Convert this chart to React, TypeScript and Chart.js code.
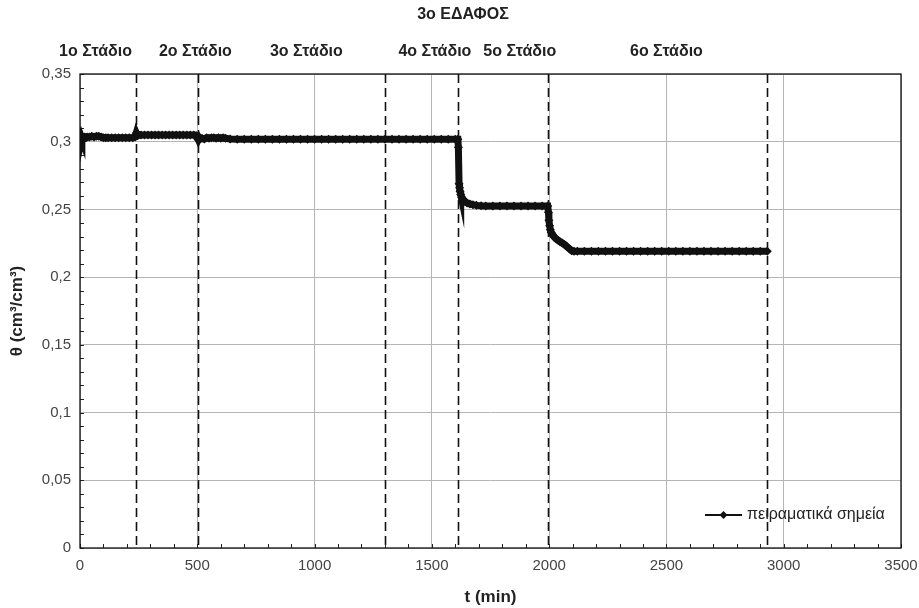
import React, { useEffect, useRef } from "react";
import { Chart, registerables } from "chart.js";

Chart.register(...registerables);

const chartTitle = "3ο ΕΔΑΦΟΣ";
const xAxisTitle = "t (min)";
const yAxisTitle = "θ (cm³/cm³)";
const seriesName = "πειραματικά σημεία";

// stage labels and their (approximate) horizontal centre in t units
const stageLabels = ["1ο Στάδιο", "2ο Στάδιο", "3ο Στάδιο", "4ο Στάδιο", "5ο Στάδιο", "6ο Στάδιο"];
const stageLabelT = [66, 492, 965, 1513, 1875, 2500];
// dashed boundaries between stages (min)
const stageBounds = [240, 504, 1300, 1611, 1994, 2930];

// measured points
const timeMin = [
  0, 2, 4, 6, 8, 10, 15, 20, 25, 30, 40, 50, 60, 70, 80, 90, 100, 110, 120, 135, 150, 165, 180, 195, 210, 225, 235, 240,
  245, 250, 260, 275, 290, 305, 320, 335, 350, 365, 380, 395, 410, 425, 440, 455, 470, 485, 495, 500, 504,
  508, 512, 520, 530, 540, 550, 560, 570, 580, 590, 600, 610, 620, 640, 670, 700, 730, 760, 790, 820, 850, 880,
  910, 940, 970, 1000, 1030, 1060, 1090, 1120, 1150, 1180, 1210, 1240, 1270, 1300, 1330, 1360, 1390, 1420, 1450,
  1480, 1510, 1540, 1570, 1600, 1611,
  1613, 1616, 1618, 1620, 1623, 1627, 1633, 1640, 1650, 1662, 1675, 1690, 1710, 1730,
  1760, 1790, 1820, 1850, 1880, 1910, 1940, 1970, 1994,
  1997, 1999, 2002, 2005, 2009, 2014, 2020, 2028, 2036, 2046, 2056, 2066, 2076, 2086, 2096, 2106, 2120,
  2150, 2180, 2210, 2240, 2270, 2300, 2330, 2360, 2390, 2420, 2450, 2480, 2510, 2540, 2570, 2600, 2630, 2660,
  2690, 2720, 2750, 2780, 2810, 2840, 2870, 2900, 2930,
];
const theta = [
  0.3005, 0.304, 0.301, 0.303, 0.302, 0.3035, 0.303, 0.3035, 0.303, 0.3035, 0.3035, 0.304, 0.3035, 0.304, 0.304, 0.3035,
  0.303, 0.303, 0.303, 0.303, 0.303, 0.303, 0.303, 0.303, 0.303, 0.303, 0.3035, 0.3065,
  0.3045, 0.305, 0.305, 0.305, 0.305, 0.305, 0.305, 0.305, 0.305, 0.305, 0.305, 0.305, 0.305, 0.305, 0.305, 0.305,
  0.305, 0.305, 0.3045, 0.303, 0.3015,
  0.303, 0.302, 0.3025, 0.302, 0.303, 0.3025, 0.303, 0.303, 0.3025, 0.303, 0.3025, 0.303, 0.3025, 0.302, 0.3018,
  0.3018, 0.3018, 0.3018, 0.3018, 0.3018, 0.3018, 0.3018, 0.3018, 0.3018, 0.3018, 0.3018, 0.3018, 0.3018, 0.3018,
  0.3018, 0.3018, 0.3018, 0.3018, 0.3018, 0.3018, 0.3018, 0.3018, 0.3018, 0.3018, 0.3018, 0.3018, 0.3018, 0.3018,
  0.3018, 0.3018, 0.3018, 0.3018,
  0.296, 0.269, 0.266, 0.2635, 0.261, 0.259, 0.2575, 0.256, 0.2548, 0.254, 0.2535, 0.253, 0.2527, 0.2525,
  0.2525, 0.2525, 0.2525, 0.2525, 0.2525, 0.2525, 0.2525, 0.2525, 0.2525,
  0.248, 0.242, 0.238, 0.235, 0.233, 0.2315, 0.23, 0.2285, 0.2275, 0.2262, 0.2252, 0.224, 0.2225, 0.221, 0.2195,
  0.2192, 0.2192,
  0.2192, 0.2192, 0.2192, 0.2192, 0.2192, 0.2192, 0.2192, 0.2192, 0.2192, 0.2192, 0.2192, 0.2192, 0.2192, 0.2192,
  0.2192, 0.2192, 0.2192, 0.2192, 0.2192, 0.2192, 0.2192, 0.2192, 0.2192, 0.2192, 0.2192, 0.2192, 0.2192,
];

const xMin = 0;
const xMax = 3500;
const xStep = 500;
const xMinorStep = 100;
const yMin = 0;
const yMax = 0.35;
const yStep = 0.05;
const yMinorStep = 0.01;

const FONT = "'Liberation Sans', Arial, sans-serif";

const decorPlugin = {
  id: "decor",
  beforeDatasetsDraw(chart: any) {
    const { ctx, chartArea, scales } = chart;
    const xs = scales.x;
    const ys = scales.y;
    ctx.save();
    // dashed stage boundaries
    ctx.strokeStyle = "#111";
    ctx.lineWidth = 1.6;
    ctx.setLineDash([9, 5]);
    for (const b of stageBounds) {
      const px = Math.round(xs.getPixelForValue(b)) + 0.5;
      ctx.beginPath();
      ctx.moveTo(px, chartArea.top);
      ctx.lineTo(px, chartArea.bottom);
      ctx.stroke();
    }
    ctx.setLineDash([]);
    // minor ticks
    ctx.strokeStyle = "#222";
    ctx.lineWidth = 1;
    for (let i = 0; xMin + i * xMinorStep <= xMax; i++) {
      const px = Math.round(xs.getPixelForValue(xMin + i * xMinorStep)) + 0.5;
      ctx.beginPath();
      ctx.moveTo(px, chartArea.bottom);
      ctx.lineTo(px, chartArea.bottom - 4);
      ctx.stroke();
    }
    for (let i = 0; yMin + i * yMinorStep <= yMax + 1e-9; i++) {
      const py = Math.round(ys.getPixelForValue(yMin + i * yMinorStep)) + 0.5;
      ctx.beginPath();
      ctx.moveTo(chartArea.left, py);
      ctx.lineTo(chartArea.left + 4, py);
      ctx.stroke();
    }
    // plot border
    ctx.strokeStyle = "#111";
    ctx.lineWidth = 1.3;
    ctx.strokeRect(chartArea.left, chartArea.top, chartArea.right - chartArea.left, chartArea.bottom - chartArea.top);
    ctx.restore();
  },
  afterDraw(chart: any) {
    const { ctx, chartArea, scales } = chart;
    const xs = scales.x;
    ctx.save();
    ctx.fillStyle = "#222";
    ctx.textAlign = "center";
    ctx.textBaseline = "middle";
    ctx.font = `bold 16px ${FONT}`;
    ctx.fillText(chartTitle, 463, 15);
    stageLabels.forEach((s, i) => {
      ctx.fillText(s, xs.getPixelForValue(stageLabelT[i]), 52);
    });
    // legend
    const ly = chartArea.bottom - 33;
    const lx0 = chartArea.right - 196;
    const lx1 = chartArea.right - 159;
    ctx.strokeStyle = "#111";
    ctx.lineWidth = 2;
    ctx.beginPath();
    ctx.moveTo(lx0, ly);
    ctx.lineTo(lx1, ly);
    ctx.stroke();
    const cx = (lx0 + lx1) / 2;
    ctx.fillStyle = "#111";
    ctx.beginPath();
    ctx.moveTo(cx, ly - 4);
    ctx.lineTo(cx + 4, ly);
    ctx.lineTo(cx, ly + 4);
    ctx.lineTo(cx - 4, ly);
    ctx.closePath();
    ctx.fill();
    ctx.fillStyle = "#222";
    ctx.textAlign = "left";
    ctx.font = `16px ${FONT}`;
    ctx.fillText(seriesName, lx1 + 5, ly);
    ctx.restore();
  },
};

export default function App() {
  const ref = useRef<HTMLCanvasElement | null>(null);
  useEffect(() => {
    if (!ref.current) return;
    const points = timeMin.map((t, i) => ({ x: t, y: theta[i] }));
    const chart = new Chart(ref.current, {
      type: "scatter",
      data: {
        datasets: [
          {
            label: seriesName,
            data: points,
            showLine: true,
            borderColor: "#111",
            backgroundColor: "#111",
            borderWidth: 7,
            pointStyle: "rectRot",
            pointRadius: 4.5,
            pointBorderWidth: 0,
          },
        ],
      },
      plugins: [decorPlugin],
      options: {
        animation: false,
        responsive: true,
        maintainAspectRatio: false,
        layout: { padding: { top: 74, right: 18, left: 0, bottom: 0 } },
        plugins: {
          legend: { display: false },
          tooltip: { enabled: false },
          title: { display: false },
        },
        scales: {
          x: {
            type: "linear",
            min: xMin,
            max: xMax,
            ticks: {
              stepSize: xStep,
              color: "#444",
              padding: 9,
              font: { family: FONT, size: 15 },
              maxRotation: 0,
              callback: (v: any) => String(v),
            },
            grid: { color: "#b5b5b5", lineWidth: 1, drawTicks: false },
            border: { display: false },
            title: {
              display: true,
              text: xAxisTitle,
              color: "#222",
              font: { family: FONT, size: 17, weight: "bold" },
              padding: { top: 2, bottom: 0 },
            },
            afterFit(scale: any) {
              scale.height = 60;
              scale.paddingLeft = 0;
              scale.paddingRight = 0;
            },
          },
          y: {
            type: "linear",
            min: yMin,
            max: yMax,
            ticks: {
              stepSize: yStep,
              color: "#444",
              padding: 9,
              font: { family: FONT, size: 15 },
              callback: (v: any) => String(Math.round(Number(v) * 100) / 100).replace(".", ","),
            },
            grid: { color: "#b5b5b5", lineWidth: 1, drawTicks: false },
            border: { display: false },
            title: {
              display: true,
              text: yAxisTitle,
              color: "#222",
              font: { family: FONT, size: 17, weight: "bold" },
              padding: { top: 7, bottom: 6 },
            },
            afterFit(scale: any) {
              scale.width = 80;
              scale.paddingTop = 0;
              scale.paddingBottom = 0;
            },
          },
        },
      },
    });
    return () => chart.destroy();
  }, []);
  return (
    <div style={{ position: "absolute", left: 0, top: 0, width: 919, height: 608, background: "#fff" }}>
      <canvas ref={ref} />
    </div>
  );
}
